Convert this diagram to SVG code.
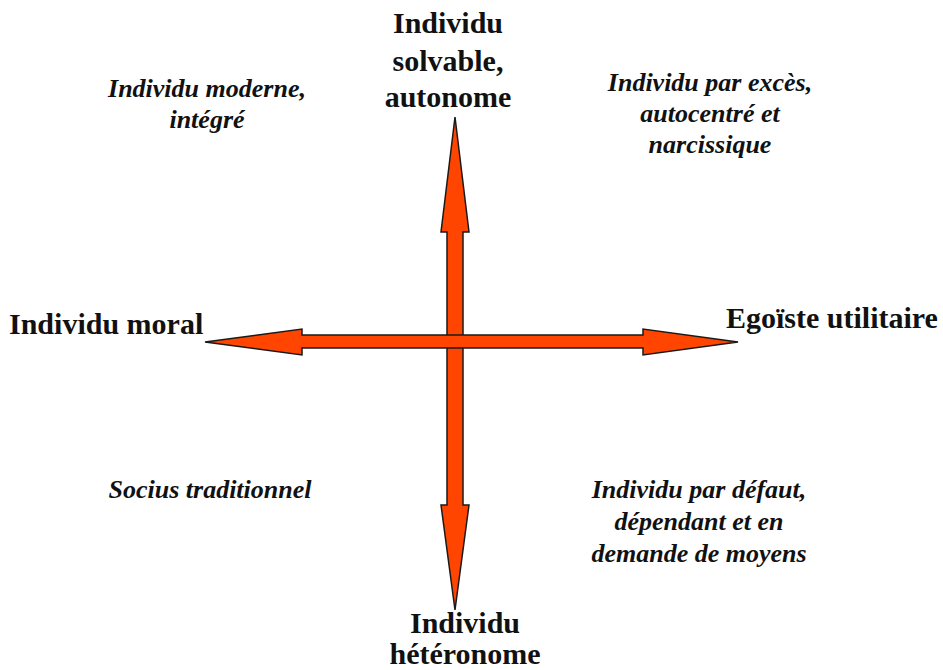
<svg xmlns="http://www.w3.org/2000/svg" width="943" height="670" viewBox="0 0 943 670">
<style>
.arrow{fill:#FF4500;stroke:#1a1a1a;stroke-width:1.5;stroke-linejoin:miter}
.axis{font-family:"Liberation Serif","Times New Roman",serif;font-weight:bold;font-size:30px;fill:#111}
.quad{font-family:"Liberation Serif","Times New Roman",serif;font-weight:bold;font-style:italic;font-size:26px;fill:#111}
</style>
<rect width="943" height="670" fill="#fff"/>
<g id="connectors">
<polygon class="arrow" points="455,117 469,232 463,232 463,505 469,505 455,610 441,505 447,505 447,232 441,232"/>
<polygon class="arrow" points="205,342 302,329 302,335 643,335 643,329 738,342 643,355 643,348 302,348 302,355"/>
</g>
<g id="node-top">
<text class="axis" text-anchor="middle" x="448" y="33">Individu</text>
<text class="axis" text-anchor="middle" x="448" y="71">solvable,</text>
<text class="axis" text-anchor="middle" x="448" y="107">autonome</text>
</g>
<g id="node-bottom">
<text class="axis" text-anchor="middle" x="465" y="633">Individu</text>
<text class="axis" text-anchor="middle" x="465" y="664">hétéronome</text>
</g>
<g id="node-left">
<text class="axis" x="9" y="334">Individu moral</text>
</g>
<g id="node-right">
<text class="axis" x="726" y="328">Egoïste utilitaire</text>
</g>
<g id="quad-top-left">
<text class="quad" text-anchor="middle" x="207" y="97">Individu moderne,</text>
<text class="quad" text-anchor="middle" x="207" y="128">intégré</text>
</g>
<g id="quad-top-right">
<text class="quad" text-anchor="middle" x="710" y="91">Individu par excès,</text>
<text class="quad" text-anchor="middle" x="710" y="122">autocentré et</text>
<text class="quad" text-anchor="middle" x="710" y="153">narcissique</text>
</g>
<g id="quad-bottom-left">
<text class="quad" text-anchor="middle" x="210" y="498">Socius traditionnel</text>
</g>
<g id="quad-bottom-right">
<text class="quad" text-anchor="middle" x="699" y="498">Individu par défaut,</text>
<text class="quad" text-anchor="middle" x="699" y="530">dépendant et en</text>
<text class="quad" text-anchor="middle" x="699" y="562">demande de moyens</text>
</g>
</svg>
